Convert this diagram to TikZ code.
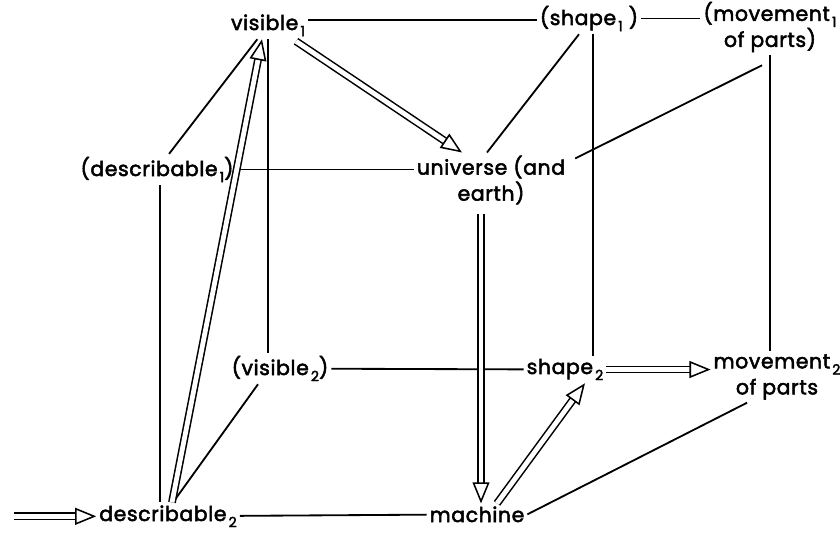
\documentclass[tikz,border=0pt]{standalone}
\usepackage{fontspec}
\setmainfont{Poppins}[LetterSpace=3.0, FakeBold=2.5]
\usepackage{tikz}
\usetikzlibrary{arrows.meta, positioning, calc}

\newcommand{\lblfont}{\fontsize{14.5}{18.5}\selectfont}
\newcommand{\sbs}[1]{\kern1.5pt\raisebox{-0.55ex}{\fontsize{10}{10}\selectfont #1}}

\tikzset{
  lbl/.style={font=\lblfont, inner sep=2pt, anchor=base},
  link/.style={line width=1.3pt},
  dbl/.style={double, double distance=3.4pt, line width=1.1pt,
    -{Triangle[open, length=15pt, width=12pt, line width=1.1pt]}}
}

\begin{document}
\begin{tikzpicture}[x=0.025cm, y=-0.025cm]
  \useasboundingbox (0,0) rectangle (840,532);

  % top row
  \node[lbl] (vis1) at (268,30) {visible\sbs1};
  \node[lbl] (shape1) at (589,25) {(shape\sbs1\ )};
  \node[lbl, align=center, anchor=center] (mov1) at (770,27) {(movement\sbs1\\of parts)};

  % middle row
  \node[lbl] (desc1) at (157,176) {(describable\sbs1)};
  \node[lbl, align=center, anchor=center] (univ) at (491,180) {universe (and\\earth)};

  % lower row
  \node[lbl] (vis2) at (280,375) {(visible\sbs2)};
  \node[lbl] (shape2) at (565,374) {shape\sbs2};
  \node[lbl, align=center, anchor=center] (mov2) at (777,377) {movement\sbs2\\of parts};

  % bottom row
  \node[lbl] (desc2) at (168,521) {describable\sbs2};
  \node[lbl] (mach) at (477,522) {machine};
  \path (desc2.west) ++(-82,0) coordinate (in);

  % plain links
  \draw[link] ([yshift=4pt]vis1.east) -- ([yshift=4pt]vis1.east -| shape1.west);
  \draw[link] (shape1.east) -- (shape1.east -| mov1.west);
  \draw[link] (vis1) -- (desc1);
  \draw[link] (vis1.south) -- (vis1.south |- vis2.north);
  \draw[link] (desc1.east) -- (desc1.east -| univ.west);
  \draw[link] ($(shape1.south)+(-10,0)$) -- ($(univ.north)+(-4,0)$);
  \coordinate (s1b) at ($(shape1.south)+(4,0)$);
  \draw[link] (s1b) -- (s1b |- shape2.north);
  \draw[link] ($(mov1.south)+(-8,10)$) -- ($(univ.north east)+(7,6)$);
  \draw[link] (mov1.south) -- (mov1.south |- mov2.north);
  \coordinate (d1b) at ($(desc1.south)+(3,0)$);
  \draw[link] (d1b) -- (d1b |- desc2.north);
  \draw[link] ($(vis2.south)+(-22,0)$) -- ($(desc2.north)+(5,0)$);
  \draw[link] (vis2) -- (shape2);
  \draw[link] (desc2) -- (mach);
  \draw[link] (mach.east) -- ($(mov2.south)+(-30,0)$);

  % double arrows
  \draw[dbl] (in) -- (desc2.west);
  \draw[dbl] ($(desc2.north)+(4,0)$) -- ($(vis1.south)+(-6,0)$);
  \draw[dbl] ($(vis1.south east)+(-12,2)$) -- ($(univ.north)+(-29,0)$);
  \coordinate (ub) at ($(univ.south)+(-10,6)$);
  \draw[dbl] (ub) -- (ub |- mach.north);
  \draw[dbl] ($(mach.north)+(20,0)$) -- ($(shape2.south)+(20,0)$);
  \draw[dbl] (shape2.east) -- (shape2.east -| mov2.west);
\end{tikzpicture}
\end{document}
